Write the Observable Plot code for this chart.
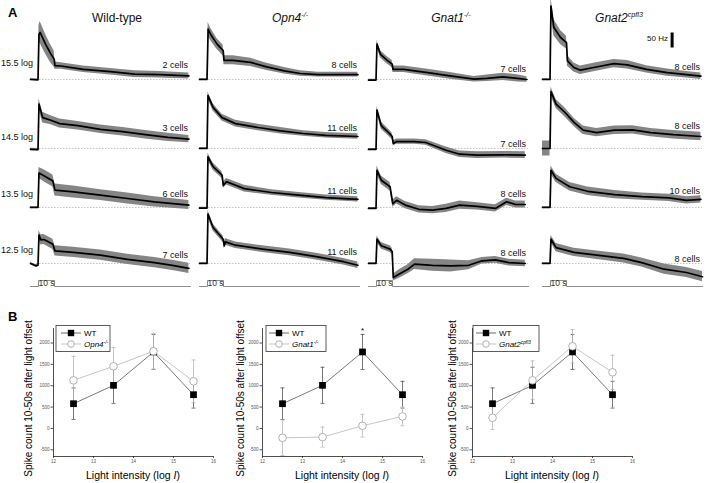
<!DOCTYPE html>
<html><head><meta charset="utf-8">
<script src="https://cdn.jsdelivr.net/npm/d3@7"></script>
<script src="https://cdn.jsdelivr.net/npm/@observablehq/plot@0.6"></script>
<style>
body{margin:0;background:#fff}
#root{position:relative;width:708px;height:483px;overflow:hidden;background:#fff;font-family:"Liberation Sans",Arial,sans-serif}
#root svg{position:absolute;overflow:visible}
</style></head><body><div id="root"></div><script>
// ---------- DATA ----------
// Panel A: genotypes (columns) and light intensities (rows)
const genotypes = ["Wild-type", "Opn4", "Gnat1", "Gnat2"];
const genotypeSup = ["", "-/-", "-/-", "cpfl3"];
const intensityLabels = ["15.5 log", "14.5 log", "13.5 log", "12.5 log"];
const cellCounts = [[2, 8, 7, 8], [3, 11, 7, 8], [6, 11, 8, 10], [7, 11, 8, 8]];
// traces: [time s, rate Hz, sem Hz]
const wt155 = [[-5,0,3],[-0.3,-1,3],[0.3,150,30],[1,157,36],[4.4,118,33],[7.5,87,30],[9.8,68,27],[10.3,46,12],[14,45,11],[28,34,11],[45,26,11],[60,18,11],[76,16,11],[94,12,10]];
const opn155 = [[-5,0,3],[-0.3,0,3],[0.4,168,22],[2,150,21],[6,118,18],[9.8,96,18],[10.3,64,15],[16,64,15],[27,57,14],[37,42,12],[48,29,11],[58,20,9],[69,16,8],[79,16,8],[94,16,8]];
const gn1155 = [[-5,-2,3],[-0.3,-2,3],[0.3,118,12],[2.5,84,12],[6.7,64,12],[9.8,51,12],[10.3,34,11],[17,34,11],[32,23,11],[46,12,11],[61,1,9],[69,4,11],[79,9,12],[88,4,12],[94,0,9]];
const gn2155 = [[-5,0,3],[-0.3,0,3],[0.3,245,30],[2.1,173,27],[6.3,140,23],[10,123,21],[10.6,62,18],[14.6,40,15],[18.7,31,14],[27,40,14],[39.6,53,14],[48,49,14],[60,34,12],[73,23,12],[85,16,11],[94,11,11]];
const wt145 = [[-5,-3,4],[-0.3,-4,4],[0.3,148,18],[2.6,103,18],[7.7,94,15],[13.3,83,15],[24.6,76,14],[38.7,64,14],[52.7,56,14],[66.8,46,14],[81,37,14],[94,31,12]];
const opn145 = [[-5,0,3],[-0.3,0,3],[0.3,176,12],[3.5,137,12],[9.1,103,11],[17.5,83,11],[31.6,70,11],[45.7,59,11],[59.8,50,9],[73.9,44,9],[94,40,9]];
const gn1145 = [[-5,-3,3],[-0.3,-3,3],[0.3,128,12],[3,76,12],[8.5,48,11],[9.8,40,11],[10.5,17,9],[12.6,23,9],[23.8,23,9],[30.8,20,9],[43.5,-6,11],[52,-19,11],[63,-22,11],[80,-21,11],[93,-22,11]];
const gn2145 = [[-5,0,25],[-0.3,0,25],[0.3,190,15],[3.5,148,15],[9.1,120,15],[14.7,87,14],[20.4,61,14],[28.8,53,14],[40,61,14],[51.3,62,14],[62.6,53,14],[76.7,46,14],[94,40,14]];
const wt135 = [[-5,0,3],[-0.3,0,3],[0.3,115,18],[3.4,106,20],[9,88,20],[10.3,58,20],[21.8,52,20],[38.7,41,18],[55.6,30,18],[72.5,19,17],[94,8,15]];
const opn135 = [[-5,-2,3],[-0.3,-2,3],[0.3,169,12],[3.5,136,12],[9.1,108,11],[9.9,74,11],[11.9,86,11],[23,63,11],[40,50,9],[57,41,9],[74,33,9],[94,27,9]];
const gn1135 = [[-5,-3,3],[-0.3,-3,3],[0.3,124,14],[3,91,14],[8.5,69,14],[10.2,13,12],[12.6,24,12],[18,8,12],[26.5,-6,12],[35,-9,12],[43.5,-3,14],[52,8,14],[63,4,12],[74.3,-3,12],[81.3,19,12],[87,10,12],[93,10,12]];
const gn2135 = [[-5,0,3],[-0.3,0,3],[0.3,124,14],[3.5,97,14],[12,69,14],[23.2,54,14],[40,43,14],[57,36,12],[74,32,12],[85,24,12],[94,27,12]];
const wt125 = [[-5,0,3],[-1.5,-8,4],[-0.3,-6,4],[0.3,95,15],[1.5,79,17],[3.4,80,17],[9,64,17],[10.3,42,17],[21.8,37,17],[38.7,28,17],[55.6,14,17],[72.5,3,17],[83.7,-6,17],[94,-16,17]];
const opn125 = [[-5,0,3],[-0.3,0,3],[0.3,165,12],[3.5,120,12],[9.8,81,11],[10.5,59,11],[11.2,72,11],[17.5,61,11],[34.4,48,11],[51.3,37,11],[68,23,11],[85,6,11],[94,-6,11]];
const gn1125 = [[-5,0,3],[-0.3,0,3],[0.3,81,11],[3,59,11],[8.5,48,11],[9.8,40,11],[10.5,-47,11],[14,-36,14],[19.6,-19,15],[23.8,-2,18],[35,-6,20],[46.3,-8,20],[57.6,-6,15],[66,9,11],[74.3,12,11],[82.8,3,11],[93,0,11]];
const gn2125 = [[-5,0,3],[-0.3,0,3],[0.3,81,12],[3.5,53,14],[14.7,37,14],[31.6,26,14],[45.7,17,15],[57,3,15],[71,-19,17],[85,-30,17],[95,-44,17]];
const traces = [
  [wt155, opn155, gn1155, gn2155],
  [wt145, opn145, gn1145, gn2145],
  [wt135, opn135, gn1135, gn2135],
  [wt125, opn125, gn1125, gn2125]
];
const stimulus = [[-5,0],[0,0],[0,1],[10,1],[10,0],[95,0]];
const stimLabel = "10 s";
const scaleBarHz = 50;

// Panel B
const intensityB = [12.5, 13.5, 14.5, 15.5];
const wtMean = [579, 1009, 1791, 790];
const wtSem = [370, 423, 410, 313];
const opn4Mean = [1127, 1455, 1807, 1103];
const opn4Sem = [560, 438, 420, 500];
const gnat1Mean = [-219, -203, 63, 282];
const gnat1Sem = [415, 235, 266, 219];
const gnat2Mean = [250, 1127, 1924, 1314];
const gnat2Sem = [274, 453, 391, 399];
const xTicksB = [12, 13, 14, 15, 16];
const yTicksB = [-500, 0, 500, 1000, 1500, 2000];
const yTitleB = "Spike count 10-50s after light offset";

// ---------- LAYOUT ----------
const root = document.getElementById("root");
const FONT = '"Liberation Sans", Arial, sans-serif';
function place(svg, left, top) {
  svg.style.left = left + "px"; svg.style.top = top + "px";
  svg.style.background = "transparent"; svg.style.overflow = "visible";
  svg.style.maxWidth = "none";
  root.appendChild(svg);
}
const colLeft = [30, 199, 368, 542];
const rowBaseline = [79, 148, 207, 263];
const tDomain = [-5, 95];
const hzDomain = [-70, 260]; // 0.3 px per Hz with height 99

traces.forEach((row, r) => row.forEach((trace, c) => {
  const pts = trace.map(([t, hz, sem]) => ({t, hz, lo: hz - sem, hi: hz + sem}));
  const extra = [];
  if (r === 0 && c === 3) {
    extra.push(Plot.ruleX([{t: 76, y1: 105, y2: 105 + scaleBarHz}], {x: "t", y1: "y1", y2: "y2", stroke: "#000", strokeWidth: 3}));
  }
  const svg = Plot.plot({
    width: 160, height: 99, marginTop: 0, marginRight: 0, marginBottom: 0, marginLeft: 0,
    x: {domain: tDomain, axis: null},
    y: {domain: hzDomain, axis: null},
    style: {background: "transparent", overflow: "visible"},
    marks: [
      Plot.ruleY([0], {stroke: "#b4b4b4", strokeWidth: 0.8, strokeDasharray: "1.5,1.5"}),
      Plot.areaY(pts, {x: "t", y1: "lo", y2: "hi", fill: "#858585"}),
      Plot.line(pts, {x: "t", y: "hz", stroke: "#000", strokeWidth: 1.7, strokeLinejoin: "round"}),
      ...extra
    ]
  });
  place(svg, colLeft[c], rowBaseline[r] - 78);
}));

// stimulus traces
colLeft.forEach((left) => {
  const pts = stimulus.map(([t, v]) => ({t, v}));
  const svg = Plot.plot({
    width: 160, height: 12, marginTop: 0, marginRight: 0, marginBottom: 0, marginLeft: 0,
    x: {domain: tDomain, axis: null},
    y: {domain: [-0.5, 1.5], axis: null},
    marks: [
      Plot.line(pts, {x: "t", y: "v", stroke: "#8c8c8c", strokeWidth: 1}),
      Plot.text([stimLabel], {x: 5, y: 0.5, fontSize: 8.5, fill: "#333", fontFamily: FONT})
    ]
  });
  place(svg, left, 277);
});

// Panel B plots
function spikePlot(mean, sem, left, mLeft, titleDx, star) {
  const wt = intensityB.map((x, i) => ({x, m: wtMean[i], lo: wtMean[i] - wtSem[i], hi: wtMean[i] + wtSem[i]}));
  const mu = intensityB.map((x, i) => ({x, m: mean[i], lo: mean[i] - sem[i], hi: mean[i] + sem[i]}));
  const cap = 0.05;
  const yDom = [-657, 2340];
  const eb = (data, color) => [
    Plot.ruleX(data, {x: "x", y1: "lo", y2: "hi", stroke: color, strokeWidth: 0.8}),
    Plot.link(data, {x1: d => d.x - cap, x2: d => d.x + cap, y1: "hi", y2: "hi", stroke: color, strokeWidth: 0.8}),
    Plot.link(data, {x1: d => d.x - cap, x2: d => d.x + cap, y1: "lo", y2: "lo", stroke: color, strokeWidth: 0.8})
  ];
  const marks = [
    Plot.axisX(xTicksB, {tickSize: 2, tickPadding: 1, fontSize: 4.5, label: null, color: "#555", fontFamily: FONT, tickFormat: d => String(d)}),
    Plot.axisY(yTicksB, {tickSize: 2.5, tickPadding: 1.5, fontSize: 4.5, label: null, color: "#555", fontFamily: FONT, tickFormat: d => String(d)}),
    Plot.ruleX([xTicksB[0]], {stroke: "#222", strokeWidth: 0.8}),
    Plot.ruleY([yDom[0]], {stroke: "#222", strokeWidth: 0.8}),
    ...eb(wt, "#555"),
    Plot.line(wt, {x: "x", y: "m", stroke: "#555", strokeWidth: 0.8}),
    ...eb(mu, "#b8b8b8"),
    Plot.line(mu, {x: "x", y: "m", stroke: "#b8b8b8", strokeWidth: 0.8}),
    Plot.dot(wt, {x: "x", y: "m", symbol: "square", fill: "#000", r: 3.8}),
    Plot.dot(mu, {x: "x", y: "m", symbol: "circle", fill: "#fff", stroke: "#a8a8a8", strokeWidth: 0.9, r: 3.8}),
    Plot.text([yTitleB], {frameAnchor: "left", textAnchor: "middle", lineAnchor: "middle", rotate: -90, dx: titleDx, dy: 6, fontSize: 10, fill: "#000", fontFamily: FONT})
  ];
  if (star) marks.push(Plot.text(wt.filter(d => d.x === star), {x: "x", y: "hi", text: () => "*", lineAnchor: "bottom", dy: -1, fontSize: 8, fill: "#000", fontFamily: FONT}));
  const svg = Plot.plot({
    width: mLeft + 165, height: 183, marginLeft: mLeft, marginRight: 5, marginTop: 28, marginBottom: 27,
    x: {domain: [12, 16]}, y: {domain: yDom},
    style: {background: "transparent", overflow: "visible", fontFamily: FONT},
    marks
  });
  place(svg, left, 300);
}
spikePlot(opn4Mean, opn4Sem, 0, 53, -25, null);
spikePlot(gnat1Mean, gnat1Sem, 228, 34, -22, 14.5);
spikePlot(gnat2Mean, gnat2Sem, 438, 34, -20, null);

// ---------- TEXT OVERLAY ----------
const ov = d3.create("svg").attr("width", 708).attr("height", 483)
  .style("left", "0px").style("top", "0px").style("pointer-events", "none")
  .attr("font-family", FONT);
function txt(x, y, parts, size, anchor, extra = {}) {
  const t = ov.append("text").attr("x", x).attr("y", y).attr("font-size", size)
    .attr("text-anchor", anchor).attr("fill", extra.fill || "#111");
  if (extra.weight) t.attr("font-weight", extra.weight);
  parts.forEach(p => {
    const s = t.append("tspan").text(p.t);
    if (p.i) s.attr("font-style", "italic");
    if (p.sup) s.attr("font-size", size * 0.6).attr("dy", -size * 0.4);
  });
  return t;
}
txt(8, 17, [{t: "A"}], 13, "start", {weight: "bold", fill: "#000"});
txt(8, 321, [{t: "B"}], 13, "start", {weight: "bold", fill: "#000"});

const titleX = [117, 290, 451, 619];
genotypes.forEach((g, c) => {
  const parts = c === 0 ? [{t: g}] : [{t: g, i: true}, {t: genotypeSup[c], i: true, sup: true}];
  txt(titleX[c], 22, parts, 12, "middle");
});
const labelBase = [66, 140, 197, 253];
intensityLabels.forEach((l, r) => txt(33, labelBase[r], [{t: l}], 9, "end"));
const cellBase = [[68, 68, 72, 70], [131, 131, 147, 129], [197, 194, 197, 194], [258, 255, 256, 262]];
cellCounts.forEach((row, r) => row.forEach((n, c) => {
  txt(colLeft[c] + 158, cellBase[r][c], [{t: n + " cells"}], 9, "end");
}));
txt(668, 41, [{t: scaleBarHz + " Hz"}], 8, "end");

// x titles panel B
[53, 262, 472].forEach(ax => {
  txt(ax + 80, 479, [{t: "Light intensity (log "}, {t: "I", i: true}, {t: ")"}], 10.5, "middle", {fill: "#000"});
});

// legends panel B
const legends = [
  {x0: 56, x1: 110, lx: 61, name: "Opn4", sup: "-/-"},
  {x0: 266, x1: 326, lx: 269, name: "Gnat1", sup: "-/-"},
  {x0: 473, x1: 539, lx: 476, name: "Gnat2", sup: "cpfl3"}
];
legends.forEach(L => {
  ov.append("rect").attr("x", L.x0).attr("y", 325.5).attr("width", L.x1 - L.x0).attr("height", 26)
    .attr("fill", "#fff").attr("stroke", "#333").attr("stroke-width", 0.8);
  ov.append("line").attr("x1", L.lx).attr("x2", L.lx + 20).attr("y1", 333).attr("y2", 333).attr("stroke", "#444").attr("stroke-width", 0.8);
  ov.append("rect").attr("x", L.lx + 10 - 3.2).attr("y", 333 - 3.2).attr("width", 6.4).attr("height", 6.4).attr("fill", "#000");
  ov.append("line").attr("x1", L.lx).attr("x2", L.lx + 20).attr("y1", 344).attr("y2", 344).attr("stroke", "#b8b8b8").attr("stroke-width", 0.8);
  ov.append("circle").attr("cx", L.lx + 10).attr("cy", 344).attr("r", 3.3).attr("fill", "#fff").attr("stroke", "#a8a8a8").attr("stroke-width", 0.9);
  txt(L.lx + 23, 336, [{t: "WT"}], 8, "start", {fill: "#000"});
  txt(L.lx + 23, 347, [{t: L.name, i: true}, {t: L.sup, i: true, sup: true}], 8, "start", {fill: "#000"});
});

root.appendChild(ov.node());
</script></body></html>
